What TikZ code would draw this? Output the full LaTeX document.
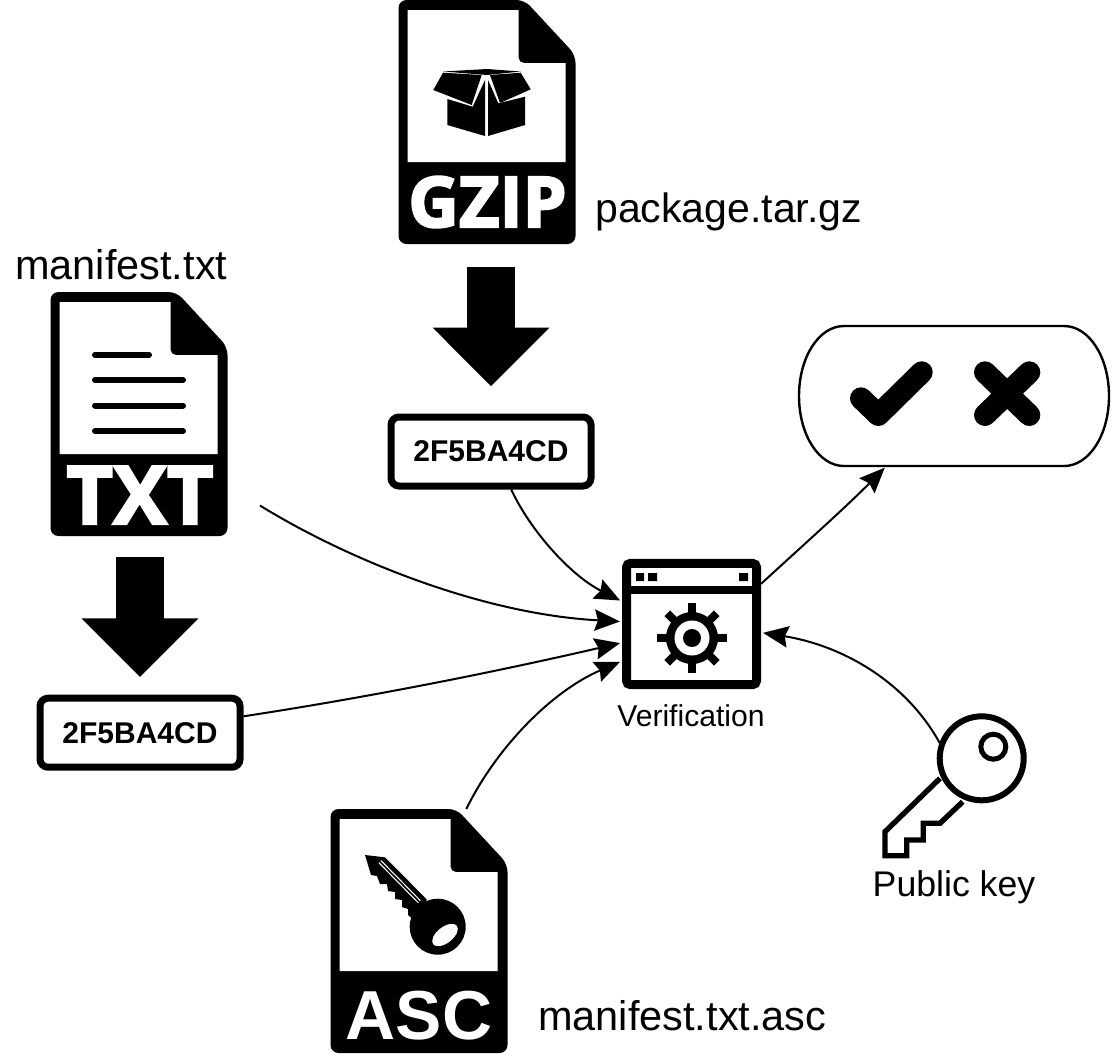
\documentclass[tikz,border=0pt]{standalone}
\usepackage{fontspec}
\setmainfont{Liberation Sans}
\newfontfamily\iconfont{Open Sans}[BoldFeatures={FakeBold=3}]
\usetikzlibrary{arrows.meta,calc}
\tikzset{
  fileslot/.style={inner sep=0pt,outer sep=0pt,minimum width=133.5pt,minimum height=183pt},
  filesheet/.pic={
    \fill[black,rounded corners=6pt] (0,0) -- (126,0) -- (177,55) -- (177,244) -- (0,244) -- cycle;
    \fill[white] (9,10) -- (120,10) [rounded corners=4pt] -- (120,63) [sharp corners] -- (167,63) -- (167,162) -- (9,162) -- cycle;
  },
  sans/.style={font=\fontsize{#1}{#1}\selectfont,inner sep=0pt,anchor=base},
  fname/.style={font=\fontsize{#1}{#1}\selectfont,inner sep=0pt,anchor=base west},
  tagA/.style={font=\iconfont\bfseries\fontsize{#1}{#1}\selectfont,text=white,inner sep=0pt,anchor=base},
  tagB/.style={font=\bfseries\fontsize{#1}{#1}\selectfont,text=white,inner sep=0pt,anchor=base},
  hashbox/.style={draw=black,fill=white,line width=5.25pt,rounded corners=6pt,font=\bfseries\fontsize{22.5pt}{24pt}\selectfont,
    minimum width=150pt,minimum height=51.75pt,inner sep=0pt,outer sep=2.6pt},
  blockarr/.style={-{Triangle[length=44pt,width=85pt]},line width=36pt},
  link/.style={-{Stealth[length=19pt,width=16pt,inset=2.5pt]},line width=1.5pt,shorten >=1.5pt},
  thickmark/.style={line width=16.5pt,line cap=round,line join=round},
}
\begin{document}
\begin{tikzpicture}[x=0.75pt,y=-0.75pt]
  \useasboundingbox (0,0) rectangle (1112,1054);
  % files
  \node[fileslot] (gzfile) at (487.5,122) {};
  \pic at (gzfile.north west) {filesheet};
  \node[tagA=52.5pt] (gztag) at (487.5,227) {GZIP};
  \node[fileslot] (txtfile) at (139.5,414) {};
  \pic at (txtfile.north west) {filesheet};
  \node[tagA=60.5pt] (txttag) at (140,524) {TXT};
  \node[fileslot] (ascfile) at (419.5,931) {};
  \pic at (ascfile.north west) {filesheet};
  \node[tagB=52pt] (asctag) at (419,1039) {ASC};
  % box glyph on the gzip file
  \fill (433.3,90) -- (443,72.7) -- (481.7,75) -- (471.7,105) -- cycle;
  \fill (490,75) -- (520.7,72.7) -- (530.7,89.3) -- (500,103) -- cycle;
  \fill (443,71.5) -- (487,69) -- (520.7,71.5) -- (487,75) -- cycle;
  \fill (447.3,99) -- (472.7,106.7) -- (485,80) -- (485,136) -- (447.3,125) -- cycle;
  \fill (488,80) -- (498.3,103.3) -- (525,96.7) -- (525,125) -- (488,136) -- cycle;
  % text lines on the txt file
  \draw[line width=4.5pt,line cap=round] (95,354.7) -- (149,354.7);
  \foreach \y in {380,405.5,431} \draw[line width=4.5pt,line cap=round] (95,\y) -- (183,\y);
  % key glyph on the asc file
  \fill (437.7,926.7) circle (28);
  \fill (365,855) -- (385,857.3) -- (426.7,899.3) -- (420,925) -- (408,915) -- (408,909) -- (402,907) -- (402,900) -- (395,899) -- (395,892) -- (388,891) -- (387,884) -- (380,884) -- (377,876) -- (371,875) -- cycle;
  \draw[white,line width=3pt] (380,861.7) -- (419.3,901.7);
  \draw[black,line width=1.2pt] (380,861.7) -- (419.3,901.7);
  \fill[white,rotate around={38:(445,935)}] (445,935) ellipse [x radius=15,y radius=8];
  % hashes
  \node[hashbox] (gzhash) at (491,451.5) {2F5BA4CD};
  \node[hashbox] (txthash) at (140,732.7) {2F5BA4CD};
  \draw[blockarr,shorten <=17pt,shorten >=20.5pt] (gzhash.north |- gzfile.south) -- (gzhash.north);
  \draw[blockarr,shorten <=15.75pt,shorten >=13.25pt] (txthash.north |- txtfile.south) -- (txthash.north);
  % verification
  \node[draw=black,fill=white,line width=6.75pt,rounded corners=3pt,inner sep=0pt,minimum width=97.5pt,minimum height=91pt,outer sep=3.4pt] (verif) at (691.5,624) {};
  \draw[line width=6pt] (631,590) -- (752,590);
  \fill (636,573) rectangle (644,581) (648,573) rectangle (657,581) (739,573) rectangle (748,581);
  \foreach \a in {0,45,...,315} \draw[line width=6pt] (692,638) -- +(\a:35);
  \fill (692,638) circle (26);
  \fill[white] (692,638) circle (17.5);
  \fill (692,638) circle (9);
  \node[sans=22.6pt] (veriflbl) at (691,726) {Verification};
  % result
  \node[inner sep=0pt,minimum width=232.5pt,minimum height=105pt] (resbox) at (954,396) {};
  \draw[line width=1.8pt] (844,326) -- (1064,326) .. controls (1089,326) and (1109,357) .. (1109,396) .. controls (1109,435) and (1089,466) .. (1064,466) -- (844,466) .. controls (819,466) and (799,435) .. (799,396) .. controls (799,357) and (819,326) .. (844,326) -- cycle;
  \draw[thickmark] (861,398.3) -- (878.3,415) -- (921.7,372.3);
  \draw[thickmark] (985,372.3) -- (1029.3,415) (1029.3,372.3) -- (985,415);
  % public key
  \node[draw=black,line width=4.5pt,circle,inner sep=0pt,minimum size=63pt,outer sep=2pt] (pubkey) at (981.7,758.3) {};
  \draw[line width=4pt,miter limit=4] (940,778.3) -- (885,831.7) -- (885,855.7) -- (906.7,855.7) -- (906.7,840) -- (923.3,840) -- (923.3,823.3) -- (940,823.3) -- (962.7,801.7);
  \draw[line width=3.75pt] (993.3,746.7) circle (12.5);
  \node[sans=26.75pt] (keylbl) at (954,896.5) {Public key};
  % names
  \node[fname=30.75pt] (gzname) at (595,222.5) {package.tar.gz};
  \node[fname=31.1pt] (txtname) at (15,279.5) {manifest.txt};
  \node[fname=31.1pt] (ascname) at (538,1030) {manifest.txt.asc};
  % links
  \draw[link] (gzhash.-62) .. controls (530,530) and (570,575) .. (verif.162);
  \draw[link,shorten <=27.75pt] (txtfile.-39) .. controls (345,558) and (480,614) .. (verif.178);
  \draw[link] (txthash.9) .. controls (370,697) and (495,672) .. (verif.195);
  \draw[link] (ascfile.69) .. controls (495,750) and (550,692) .. (verif.208);
  \draw[link] (verif.30) .. controls (800,548) and (845,508) .. (resbox.226);
  \draw[link] (pubkey.160) .. controls (905,680) and (840,645) .. (verif.-7);
\end{tikzpicture}
\end{document}
